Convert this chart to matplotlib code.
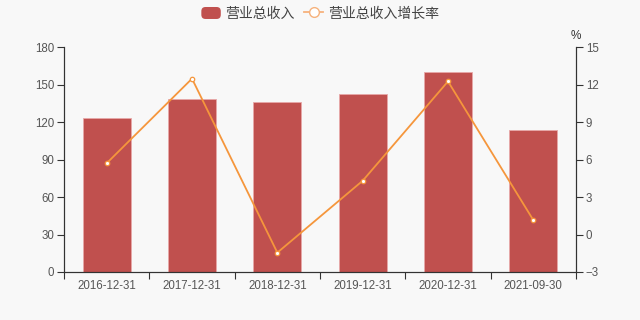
import numpy as np
import matplotlib.pyplot as plt
from matplotlib.lines import Line2D
from matplotlib.patches import FancyBboxPatch
from matplotlib.legend_handler import HandlerPatch

plt.rcParams['font.family'] = ['Liberation Sans', 'Noto Sans CJK SC', 'DejaVu Sans']

dates = ['2016-12-31', '2017-12-31', '2018-12-31', '2019-12-31', '2020-12-31', '2021-09-30']
revenue = [123.0, 138.2, 136.3, 142.4, 159.7, 113.6]
growth = [5.7, 12.47, -1.45, 4.3, 12.25, 1.15]

bg = '#f8f8f8'
bar_color = '#c0504e'
line_color = '#f5963c'
axis_color = '#333333'
text_color = '#555555'

fig = plt.figure(figsize=(6.4, 3.2), dpi=100, facecolor=bg)
ax = fig.add_axes([0.1, 0.15, 0.8, 0.703])
ax.set_facecolor(bg)

x = np.arange(len(dates))
bars = ax.bar(x, revenue, width=0.56, color=bar_color, edgecolor='#e8a8a8', linewidth=0.6, zorder=2)
ax.set_xlim(-0.5, len(dates) - 0.5)
ax.set_ylim(0, 180)
ax.set_yticks(np.arange(0, 181, 30))

ax2 = ax.twinx()
ax2.plot(x, growth, color=line_color, lw=1.3, marker='o', ms=3.2,
         mfc='white', mec=line_color, mew=0.9, zorder=3)
ax2.set_ylim(-3, 15)
ax2.set_yticks(np.arange(-3, 16, 3))

# category ticks on boundaries, labels centered
ax.set_xticks(np.arange(-0.5, len(dates), 1.0))
ax.set_xticklabels([])
ax.set_xticks(x, minor=True)
ax.set_xticklabels(dates, minor=True)
ax.tick_params(axis='x', which='minor', length=0, pad=6, labelsize=8.3, labelcolor=text_color)
ax.tick_params(axis='x', which='major', length=5, color=axis_color, width=0.8)
ax.tick_params(axis='y', length=5, color=axis_color, width=0.8, labelsize=8.3,
               labelcolor=text_color, pad=2)
ax2.tick_params(axis='y', length=5, color=axis_color, width=0.8, labelsize=8.3,
                labelcolor=text_color, pad=2)

for a in (ax, ax2):
    a.spines['top'].set_visible(False)
    for s in ('left', 'right', 'bottom'):
        a.spines[s].set_color(axis_color)
        a.spines[s].set_linewidth(0.8)
ax2.set_zorder(ax.get_zorder() + 1)
ax2.patch.set_visible(False)

fig.text(0.892, 0.888, '%', ha='left', va='center', fontsize=8.5, color=axis_color)


class RoundRectHandler(HandlerPatch):
    def create_artists(self, legend, orig_handle, xdescent, ydescent, width, height, fontsize, trans):
        p = FancyBboxPatch((-xdescent, -ydescent), width, height,
                           boxstyle='round,pad=0,rounding_size=3',
                           facecolor=bar_color, edgecolor='none', transform=trans)
        return [p]


line_handle = Line2D([0], [0], color='#f6b27c', lw=1.3, marker='o', ms=7,
                     mfc='white', mec='#f6b27c', mew=1.0)
fig.legend([bars, line_handle], ['营业总收入', '营业总收入增长率'],
           loc='center', bbox_to_anchor=(0.5, 0.957), ncol=2, frameon=False,
           fontsize=10, handlelength=1.4, handleheight=0.95, handletextpad=0.3,
           columnspacing=0.7, labelcolor='#444444',
           handler_map={bars.__class__: RoundRectHandler()})

fig.savefig('out.png', dpi=100, facecolor=bg)
